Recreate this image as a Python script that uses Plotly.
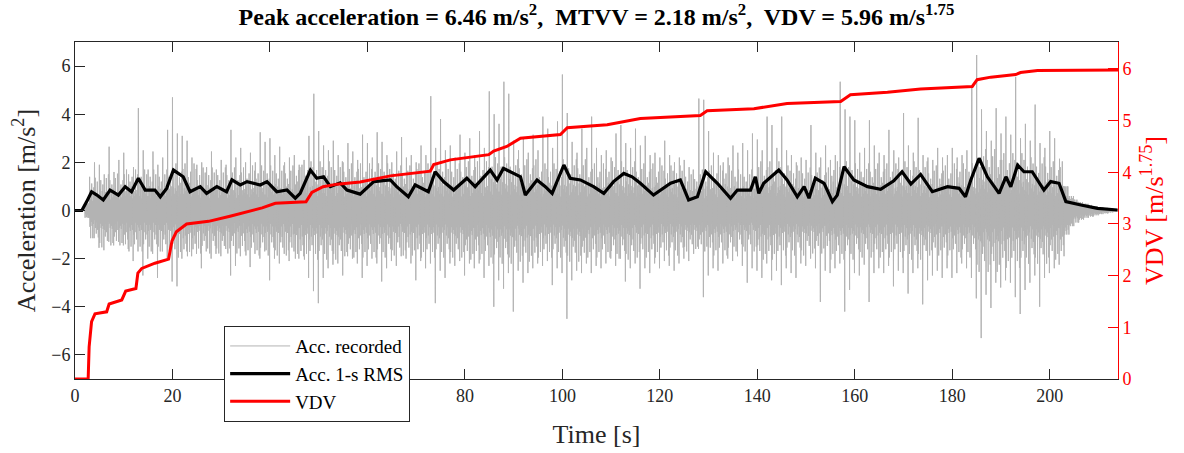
import plotly.graph_objects as go

# ---------------- data ----------------
# Recorded acceleration: per-second positive / negative extremes [m/s^2], t = 0..213 s
acc_max = [0, 0, 0.3, 1.4, 2.0, 1.9, 1.5, 2.65, 1.6, 2.1,
           2.4, 1.5, 1.8, 4.25, 2.5, 1.7, 2.45, 1.9, 2.2, 3.35,
           4.7, 3.2, 3.1, 2.9, 2.2, 1.9, 2.0, 1.8, 2.45, 1.7,
           2.1, 1.9, 3.35, 2.2, 2.6, 2.0, 2.4, 2.0, 3.25, 2.85,
           3.0, 2.3, 2.65, 2.0, 2.2, 2.3, 1.9, 2.1, 3.1, 4.85,
           3.3, 2.7, 2.5, 2.9, 2.3, 2.0, 2.8, 2.45, 2.1, 3.15,
           2.8, 2.2, 3.25, 2.85, 2.3, 2.0, 2.45, 3.05, 2.2, 2.3,
           2.0, 2.7, 2.3, 4.75, 2.6, 3.8, 2.5, 2.7, 2.2, 3.15,
           2.4, 3.0, 2.3, 3.3, 2.6, 4.95, 4.0, 3.6, 5.35, 4.85,
           2.9, 2.5, 3.0, 2.4, 3.15, 2.5, 3.9, 3.4, 2.6, 3.7,
           5.65, 4.05, 2.85, 2.4, 3.4, 2.6, 3.9, 2.6, 2.3, 2.5,
           2.2, 3.2, 3.55, 2.8, 2.6, 3.4, 2.7, 3.1, 2.3, 2.4,
           2.2, 2.9, 2.3, 2.0, 2.2, 2.1, 1.8, 1.3, 4.65, 4.6,
           3.3, 2.4, 2.3, 2.0, 2.2, 2.7, 2.4, 2.8, 2.5, 3.2,
           2.95, 2.5, 3.9, 3.55, 2.6, 3.9, 2.5, 2.3, 2.0, 2.2,
           2.1, 3.55, 2.4, 2.2, 2.7, 2.1, 2.3, 5.35, 4.2, 3.9,
           3.75, 2.4, 2.6, 3.75, 2.7, 2.4, 2.3, 3.35, 2.5, 2.2,
           4.05, 2.7, 2.4, 3.85, 2.3, 2.2, 2.1, 2.6, 2.2, 2.3,
           2.6, 2.2, 2.3, 2.5, 5.1, 6.46, 4.2, 3.3, 2.9, 4.25,
           3.2, 3.9, 3.15, 5.55, 3.0, 3.6, 2.9, 4.4, 2.8, 2.6,
           3.3, 3.0, 2.15, 1.0, 0.6, 0.45, 0.35, 0.28, 0.23, 0.18,
           0.14, 0.11, 0.08, 0.06]
acc_min = [0, 0, -0.3, -1.15, -1.55, -1.65, -1.3, -1.45, -1.3, -1.45,
           -1.6, -2.1, -1.7, -2.7, -2.0, -1.8, -2.8, -1.7, -2.1, -2.95,
           -3.15, -2.0, -1.7, -1.9, -1.8, -2.4, -1.7, -2.0, -1.8, -1.9,
           -1.6, -2.7, -2.3, -1.9, -1.7, -2.35, -1.8, -2.0, -1.7, -2.9,
           -2.0, -2.2, -1.8, -2.1, -1.7, -2.0, -1.9, -2.8, -3.35, -3.85,
           -2.8, -2.4, -2.25, -2.2, -2.7, -1.9, -2.0, -2.2, -2.8, -2.3,
           -2.0, -2.2, -2.95, -2.4, -2.1, -2.3, -1.9, -2.0, -2.2, -2.9,
           -2.1, -2.4, -2.2, -3.85, -2.5, -2.8, -2.2, -2.3, -2.1, -2.7,
           -2.2, -2.4, -2.2, -2.8, -2.3, -4.0, -2.9, -3.25, -2.6, -4.2,
           -2.5, -3.0, -2.6, -2.4, -2.2, -2.3, -2.1, -3.1, -2.4, -2.6,
           -4.5, -2.9, -2.5, -2.6, -2.2, -2.6, -2.3, -2.4, -2.2, -2.0,
           -2.3, -2.0, -2.95, -2.4, -2.2, -3.25, -2.4, -2.6, -2.2, -2.4,
           -2.1, -2.3, -2.5, -2.2, -2.0, -2.1, -1.8, -1.6, -3.6, -2.7,
           -2.4, -2.5, -2.2, -2.0, -2.1, -1.9, -2.3, -3.0, -2.4, -2.5,
           -2.8, -2.2, -2.9, -2.5, -3.1, -2.4, -2.6, -2.8, -2.2, -2.3,
           -2.0, -2.4, -3.8, -2.5, -2.6, -2.4, -2.2, -4.2, -3.3, -2.6,
           -2.7, -2.25, -3.8, -2.6, -2.4, -2.6, -2.3, -3.15, -2.5, -2.6,
           -3.45, -2.6, -2.4, -3.9, -2.9, -2.7, -2.5, -2.8, -2.4, -2.8,
           -2.6, -2.2, -2.4, -2.8, -3.65, -5.3, -3.5, -4.05, -3.0, -3.2,
           -2.9, -3.0, -3.6, -4.3, -3.3, -3.0, -2.7, -4.0, -2.8, -2.6,
           -2.4, -2.25, -1.9, -1.0, -0.65, -0.5, -0.38, -0.3, -0.25, -0.2,
           -0.15, -0.12, -0.08, -0.05]
# amplitude of the dense core of the signal, one value per 5-s block
acc_core_5s = [0.8, 0.9, 1.0, 1.0, 1.15, 1.05, 1.05, 1.1, 1.1, 1.2,
               1.2, 1.15, 1.15, 1.1, 1.15, 1.15, 1.2, 1.3, 1.25, 1.15,
               1.25, 1.15, 1.2, 1.15, 1.1, 1.0, 1.1, 1.0, 1.2, 1.1,
               1.05, 1.2, 1.15, 1.15, 1.2, 1.1, 1.15, 1.5, 1.4, 1.3,
               1.2, 0.4, 0.15]
# relative sizes of the successive swings inside one second (drawing pattern)
swing_pattern = [1.0, 0.6, 1.4, 0.8, 0.5, 1.7, 0.9, 0.7, 1.2, 0.85, 0.6, 1.5]

# 1-s running RMS
rms_t = [0, 1.4, 2.4, 3.4, 4.5, 5.8, 7.2, 8.9, 10.3, 11.6, 13, 14.4, 16.4, 17.5, 18.8,
         20.2, 22.2, 23.6, 25.7, 27, 29.1, 31.1, 32.2, 33.9, 35.3, 38, 39.4, 41.4, 43.5,
         45.2, 46.2, 48.3, 49.6, 51, 52.4, 54.4, 55.8, 58.5, 61.3, 64.7, 66, 68.4, 69.8,
         72.5, 73.9, 75.6, 77.7, 80.4, 82.1, 85.2, 86.6, 87.9, 90, 91.4, 92.4, 94.8, 96.5,
         97.9, 100.3, 101.6, 103.7, 106.4, 108.5, 110.5, 112.6, 114.3, 116, 118.7, 122.2,
         124.2, 125.9, 127.7, 129.4, 131.8, 134.5, 135.9, 138.6, 139.6, 140.3, 141.3, 144.4,
         146.1, 148.2, 149.6, 150.6, 151.9, 153.7, 155.4, 156.4, 157.8, 159.8, 162.6, 165.3,
         168, 169.7, 171.5, 173.5, 175.9, 179, 181.4, 182.7, 183.8, 185.5, 187.2, 189.6,
         191, 192, 193.4, 194.7, 196.4, 198.8, 200.2, 201.9, 203.3, 206.4, 209.8, 213.9]
rms_v = [0, 0, 0.37, 0.78, 0.64, 0.44, 0.85, 0.64, 0.99, 0.78, 1.34, 0.85, 0.85, 0.57, 0.92,
         1.68, 1.40, 0.78, 0.99, 0.71, 0.99, 0.78, 1.27, 1.06, 1.20, 1.06, 1.20, 0.78, 0.85,
         0.51, 0.71, 1.68, 1.34, 1.40, 0.99, 1.15, 0.85, 0.68, 1.20, 1.27, 0.99, 0.57, 1.06,
         0.78, 1.61, 1.20, 0.85, 1.34, 0.99, 1.68, 1.27, 1.75, 1.54, 1.40, 0.64, 1.27, 0.99,
         0.71, 1.89, 1.34, 1.27, 0.99, 0.71, 1.20, 1.54, 1.40, 1.13, 0.64, 1.13,
         1.27, 0.44, 0.57, 1.61, 1.13, 0.51, 0.85, 0.85, 1.40, 0.71, 1.13, 1.68,
         1.27, 0.57, 0.99, 0.51, 1.34, 1.13, 0.37, 0.64, 1.82, 1.27, 0.99, 0.88,
         1.23, 1.61, 1.10, 1.50, 0.78, 0.99, 0.92, 0.57, 1.27, 2.17, 1.40, 0.71,
         1.40, 0.99, 1.89, 1.61, 1.61, 0.85, 1.20, 1.13, 0.37, 0.23, 0.09, 0.02]

# cumulative VDV
vdv_t = [0, 2.7, 2.9, 3.4, 4.1, 6.5, 7.0, 9.6, 10.4, 12.5, 12.9, 13.7, 16.4, 19.2, 19.9,
         20.8, 22.9, 27.4, 31.8, 38.4, 41.1, 47.4, 48.6, 50.9, 53.8, 58.5, 64.7, 72.9, 73.6,
         77, 84.9, 85.9, 88.6, 91.4, 99.6, 101, 109.2, 116, 128.3, 129.7, 139.3, 146.1,
         157.1, 159.1, 166.7, 173.5, 184.1, 185.1, 187.9, 193, 194, 197.5, 214]
vdv_v = [0, 0, 0.62, 1.11, 1.26, 1.30, 1.45, 1.53, 1.70, 1.75, 2.05, 2.14, 2.24, 2.32, 2.67,
         2.85, 3.00, 3.05, 3.15, 3.31, 3.40, 3.43, 3.61, 3.72, 3.77, 3.81, 3.93, 4.02, 4.15,
         4.24, 4.34, 4.41, 4.50, 4.66, 4.73, 4.86, 4.92, 5.04, 5.10, 5.19, 5.23, 5.33,
         5.37, 5.50, 5.55, 5.61, 5.66, 5.79, 5.84, 5.89, 5.93, 5.97, 5.98]

TITLE = ("Peak acceleration = 6.46 m/s<sup>2</sup>,&nbsp; MTVV = 2.18 m/s<sup>2</sup>,"
         "&nbsp; VDV = 5.96 m/s<sup>1.75</sup>")

# ---------------- build gray signal trace from the typed extremes ----------------
# each second: one excursion to each typed extreme plus swings across the core
# (swings are clipped to the typed extremes of that second)
acc_x, acc_y = [], []
n_sw = len(swing_pattern)
for i, (hi, lo) in enumerate(zip(acc_max, acc_min)):
    core = min(acc_core_5s[i // 5], hi, -lo)
    shift = (7 * i) % n_sw
    pattern = swing_pattern[shift:] + swing_pattern[:shift]
    vals = [hi]
    for k, f in enumerate(pattern):
        if k % 2 == 0:
            vals.append(max(-core * f, lo))
        else:
            vals.append(min(core * f, hi))
    vals.append(lo)
    for k, v in enumerate(vals):
        acc_x.append(i + k / len(vals))
        acc_y.append(v)

FONT = "Liberation Serif, Times New Roman, Times, serif"
AX = "#262626"

fig = go.Figure()
fig.add_trace(go.Scatter(x=acc_x, y=acc_y, mode="lines", name="Acc. recorded",
                         line=dict(color="#b3b3b3", width=1, simplify=False)))
fig.add_trace(go.Scatter(x=rms_t, y=rms_v, mode="lines", name="Acc. 1-s RMS",
                         line=dict(color="black", width=3.2)))
fig.add_trace(go.Scatter(x=vdv_t, y=vdv_v, mode="lines", name="VDV", yaxis="y2",
                         line=dict(color="#ff0000", width=3)))

fig.update_layout(
    width=1184, height=453,
    margin=dict(l=75, r=66, t=42, b=74, autoexpand=False),
    paper_bgcolor="white", plot_bgcolor="white",
    font=dict(family=FONT, color=AX, size=18),
    title=dict(text=TITLE, x=0.5, xref="paper", xanchor="center",
               y=0.964, yref="container", yanchor="middle",
               font=dict(family=FONT, size=24, color="black", weight="bold")),
    xaxis=dict(range=[0, 214], tickvals=list(range(0, 201, 20)),
               showline=True, linecolor=AX, linewidth=1, mirror="ticks",
               ticks="inside", ticklen=10, tickcolor=AX, showgrid=False, zeroline=False,
               tickfont=dict(family=FONT, size=18, color=AX),
               title=dict(text="Time [s]", font=dict(family=FONT, size=26, color=AX),
                          standoff=20)),
    yaxis=dict(range=[-7, 7], tickvals=[-6, -4, -2, 0, 2, 4, 6],
               showline=True, linecolor=AX, linewidth=1, mirror=False,
               ticks="inside", ticklen=10, tickcolor=AX, showgrid=False, zeroline=False,
               tickfont=dict(family=FONT, size=18, color=AX),
               title=dict(text="Acceleration [m/s<sup>2</sup>]",
                          font=dict(family=FONT, size=26, color=AX), standoff=8)),
    yaxis2=dict(range=[0, 6.52], tickvals=[0, 1, 2, 3, 4, 5, 6], overlaying="y", side="right",
                showline=True, linecolor="#ff0000", linewidth=1,
                ticks="inside", ticklen=10, tickcolor="#ff0000", showgrid=False, zeroline=False,
                tickfont=dict(family=FONT, size=18, color="#ff0000"),
                title=dict(text="VDV [m/s<sup>1.75</sup>]",
                           font=dict(family=FONT, size=26, color="#ff0000"), standoff=14)),
    legend=dict(x=0.143, y=0.157, xanchor="left", yanchor="top",
                bgcolor="white", bordercolor=AX, borderwidth=1,
                font=dict(family=FONT, size=19, color="black"),
                itemwidth=60, tracegroupgap=0, traceorder="normal"),
    showlegend=True,
)

fig.write_html("out.html")
